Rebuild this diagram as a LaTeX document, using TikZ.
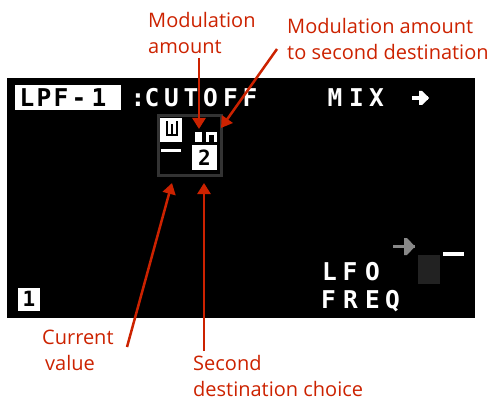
\documentclass[tikz,border=0pt]{standalone}
\usepackage{fontspec}
\setmainfont{Open Sans}
\newfontfamily\pixfont{DejaVu Sans Mono}
\usetikzlibrary{
	arrows.meta,
	positioning
}
\definecolor{callred}{RGB}{204,34,0}
\definecolor{framegray}{RGB}{51,51,51}
\definecolor{dimgray}{RGB}{34,34,34}
\definecolor{arrowgray}{RGB}{136,136,136}
\tikzset{
	pix/.style={font=\pixfont\bfseries\fontsize{24.5}{24.5}\selectfont, text=white, inner sep=0pt, anchor=base},
	pixsmall/.style={font=\pixfont\bfseries\fontsize{21}{21}\selectfont, text=black, inner sep=0pt, anchor=base},
	callout/.style={font=\fontsize{20}{26}\selectfont, text=callred, align=left, inner sep=0pt, anchor=base west},
	pointer/.style={draw=callred, line width=2.5pt, -{Triangle[length=11pt,width=13pt]}}
}

\begin{document}
\begin{tikzpicture}[x=1pt,y=-1pt]
	\useasboundingbox (0,0) rectangle (498,401);
	% 屏幕
	\fill[black] (7,78) rectangle (475,318);
	% 顶行
	\fill[white] (15,85) rectangle (121,110);
	\foreach \c/\x [count=\i] in {L/27,P/44,F/61,-/79,1/99}
	\node[pix, text=black] (lpf\i) at (\x,106.5) {\c};
	\node[pix] (colon) at (138,107) {:};
	\foreach \c/\x [count=\i] in {C/152,U/171.5,T/191,O/210.5,F/230.5,F/250}
	\node[pix] (cut\i) at (\x,107) {\c};
	\foreach \c/\x [count=\i] in {M/335,I/356.5,X/376.5}
	\node[pix] (mix\i) at (\x,107) {\c};
	\fill[white] (412,96) rectangle (428,100);
	\fill[white] (419,91) -- (422,91) -- (429,98) -- (422,105) -- (419,105) -- cycle;
	% 调制框
	\draw[framegray, line width=3pt] (158.5,115.5) rectangle (221.5,175.5);
	\fill[white] (160,118) rectangle (182,142);
	\fill[black] (166,121) rectangle (168,136);
	\fill[black] (171,124) rectangle (173,136);
	\fill[black] (176,121) rectangle (178,136);
	\fill[black] (166,134) rectangle (178,136);
	\fill[white] (195,132) rectangle (202,142);
	\fill[white] (206,132) rectangle (217,142);
	\fill[black] (209,135) rectangle (214,142);
	\fill[white] (161,149) rectangle (181,152);
	\fill[white] (192,145) rectangle (217,170);
	\node[pixsmall] (dest) at (204.5,165.5) {2};
	% 左下角
	\fill[white] (18,288) rectangle (40,311);
	\node[pixsmall] (voice) at (29,306.5) {1};
	% 右下角
	\foreach \c/\x [count=\i] in {L/329.5,F/350,O/372.5}
	\node[pix] (lfo\i) at (\x,280) {\c};
	\foreach \c/\x [count=\i] in {F/328.5,R/350.5,E/372.5,Q/392.5}
	\node[pix] (freq\i) at (\x,308) {\c};
	\fill[arrowgray] (393,245) rectangle (415,248);
	\fill[arrowgray] (404,238) -- (407,238) -- (415,246.5) -- (407,255) -- (404,255) -- cycle;
	\fill[dimgray] (418,255) rectangle (440,284);
	\fill[white] (443,252) rectangle (464,256);
	% 标注
	\node[callout] (lblAmt) at (148,54) {Modulation\\amount};
	\node[callout] (lblSecAmt) at (287,60) {Modulation amount\\to second destination};
	\node[callout] (lblCur) at (42,370) {Current\\\hspace{3pt}value};
	\node[callout] (lblDest) at (193,396.5) {Second\\destination choice};
	\coordinate (amtFrom) at (199,58);
	\coordinate (amtTip) at (199,129);
	\coordinate (secFrom) at (277,49);
	\coordinate (secTip) at (221,128);
	\coordinate (curFrom) at (127,347);
	\coordinate (curTip) at (172,183);
	\coordinate (destFrom) at (204,351);
	\coordinate (destTip) at (204,183);
	\draw[pointer] (amtFrom) -- (amtTip);
	\draw[pointer] (secFrom) -- (secTip);
	\draw[pointer] (curFrom) -- (curTip);
	\draw[pointer] (destFrom) -- (destTip);
\end{tikzpicture}
\end{document}
